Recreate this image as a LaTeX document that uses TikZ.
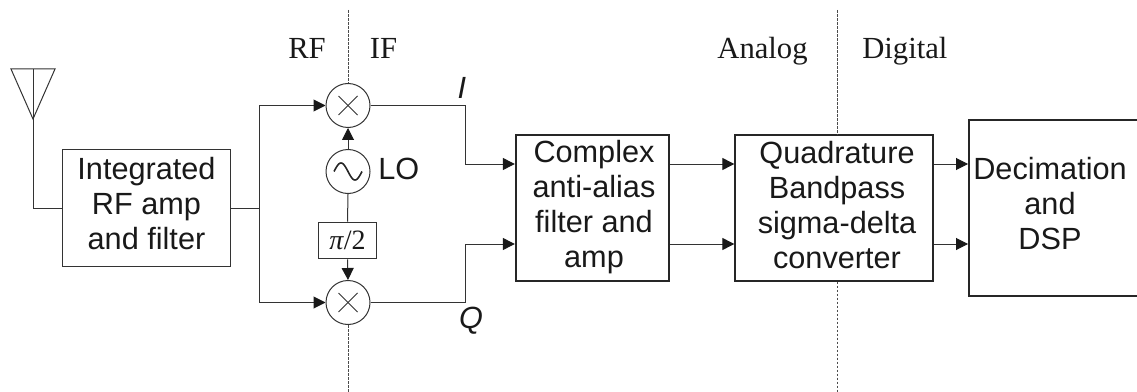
\documentclass[tikz,border=0pt]{standalone}
\usepackage{fontspec}
\setmainfont{Liberation Serif}
\setsansfont{Liberation Sans}
\usetikzlibrary{arrows.meta}
\tikzset{
  x=0.75pt,y=-0.75pt,
  wire/.style={draw=black!80,line width=0.75pt},
  flow/.style={wire,-{Triangle[length=9pt,width=9pt,black!90]}},
  thinbox/.style={draw=black!80,line width=0.75pt,inner sep=0pt},
  thickbox/.style={draw=black!85,line width=1.5pt,inner sep=0pt},
  boxtext/.style={align=center,inner sep=0pt,font=\sffamily\fontsize{23}{26.25}\selectfont,text=black!90},
  circ/.style={draw=black!80,line width=0.75pt,circle,minimum size=33pt,inner sep=0pt},
  divider/.style={draw=black!70,line width=0.7pt,dash pattern=on 2pt off 1pt},
  serlabel/.style={font=\rmfamily\fontsize{23}{26}\selectfont,text=black!90,inner sep=0pt,anchor=base},
  sanslabel/.style={font=\sffamily\fontsize{23}{26}\selectfont,text=black!90,inner sep=0pt},
  itlabel/.style={font=\sffamily\itshape\fontsize{23}{26}\selectfont,text=black!90,inner sep=0pt}
}
\begin{document}
\begin{tikzpicture}
\useasboundingbox (0,0) rectangle (1137,392);
% dividers
\coordinate (d1t) at (348,10); \coordinate (d1b) at (348,392);
\coordinate (d2t) at (837.5,10); \coordinate (d2b) at (837.5,392);
% nodes
\node[thinbox,minimum width=126.5pt,minimum height=88pt] (rfamp) at (146.5,208) {};
\node[boxtext] (rfamptext) at (146.5,203.5) {Integrated\\RF amp\\and filter};
\node[circ] (m1) at (348,105.5) {};
\node[circ] (lo) at (348,171.5) {};
\node[circ] (m2) at (348,302.5) {};
\node[thinbox,minimum width=44pt,minimum height=27.5pt,font=\fontsize{21}{24}\selectfont,text=black!90] (ps) at (347.5,240.5) {\textit{π}/2};
\node[thickbox,minimum width=115pt,minimum height=109pt] (filt) at (592.5,208) {};
\node[boxtext] (filttext) at (594,207) {Complex\\anti-alias\\filter and\\amp};
\node[thickbox,minimum width=148pt,minimum height=109pt] (qbp) at (834,208) {};
\node[boxtext] (qbptext) at (837,205) {Quadrature\\Bandpass\\sigma-delta\\converter};
\node[thickbox,minimum width=127.5pt,minimum height=132pt] (dsp) at (1054,208) {};
\node[boxtext] (dsptext) at (1050,204) {Decimation\\and\\DSP};
\node[serlabel] (rf) at (307,59) {RF};
\node[serlabel] (if) at (383.5,59) {IF};
\node[serlabel] (an) at (762.5,59) {Analog};
\node[serlabel,anchor=base west] (di) at (862,59) {Digital};
\node[itlabel] (il) at (462,88) {I};
\node[itlabel] (ql) at (471,321) {Q};
\node[sanslabel,anchor=west] (lol) at (378,168.5) {LO};
% dividers drawn
\draw[divider] (d1t) -- (m1.north);
\draw[divider] (m2.south) -- (d1b);
\draw[divider] (d2t) -- (qbp.north -| d2t);
\draw[divider] (qbp.south -| d2b) -- (d2b);
% antenna
\coordinate (a1) at (11,69); \coordinate (a2) at (55,69); \coordinate (a3) at (33,119); \coordinate (a4) at (33,69);
\draw[wire] (a1) -- (a2) -- (a3) -- cycle;
\draw[wire] (a4) -- (a3);
\draw[wire] (a3) |- (rfamp.west);
% wiring
\coordinate (j) at (259.5,208);
\draw[wire] (rfamp.east) -- (j);
\draw[flow] (j) |- (m1.west);
\draw[flow] (j) |- (m2.west);
\draw[flow] (lo.north) -- (m1.south);
\draw[wire] (lo.south) -- (ps.north);
\draw[flow] (ps.south) -- (m2.north);
\coordinate (ic) at (465,164); \coordinate (qc) at (465,244);
\draw[flow] (m1.east) -| (ic) -- (ic -| filt.west);
\draw[flow] (m2.east) -| (qc) -- (qc -| filt.west);
\draw[flow] (filt.east |- ic) -- (qbp.west |- ic);
\draw[flow] (filt.east |- qc) -- (qbp.west |- qc);
\draw[flow] (qbp.east |- ic) -- (dsp.west |- ic);
\draw[flow] (qbp.east |- qc) -- (dsp.west |- qc);
% symbols
\foreach \c in {m1,m2}{
  \draw[wire] (\c.center) ++(-9.5,-9.5) -- ++(19,19);
  \draw[wire] (\c.center) ++(-9.5,9.5) -- ++(19,-19);
}
\draw[black!85,line width=1.2pt,shift={(lo.center)}] plot[domain=-14:14,samples=41,smooth] (\x,{8.5*sin(\x*180/14)});
\end{tikzpicture}
\end{document}
